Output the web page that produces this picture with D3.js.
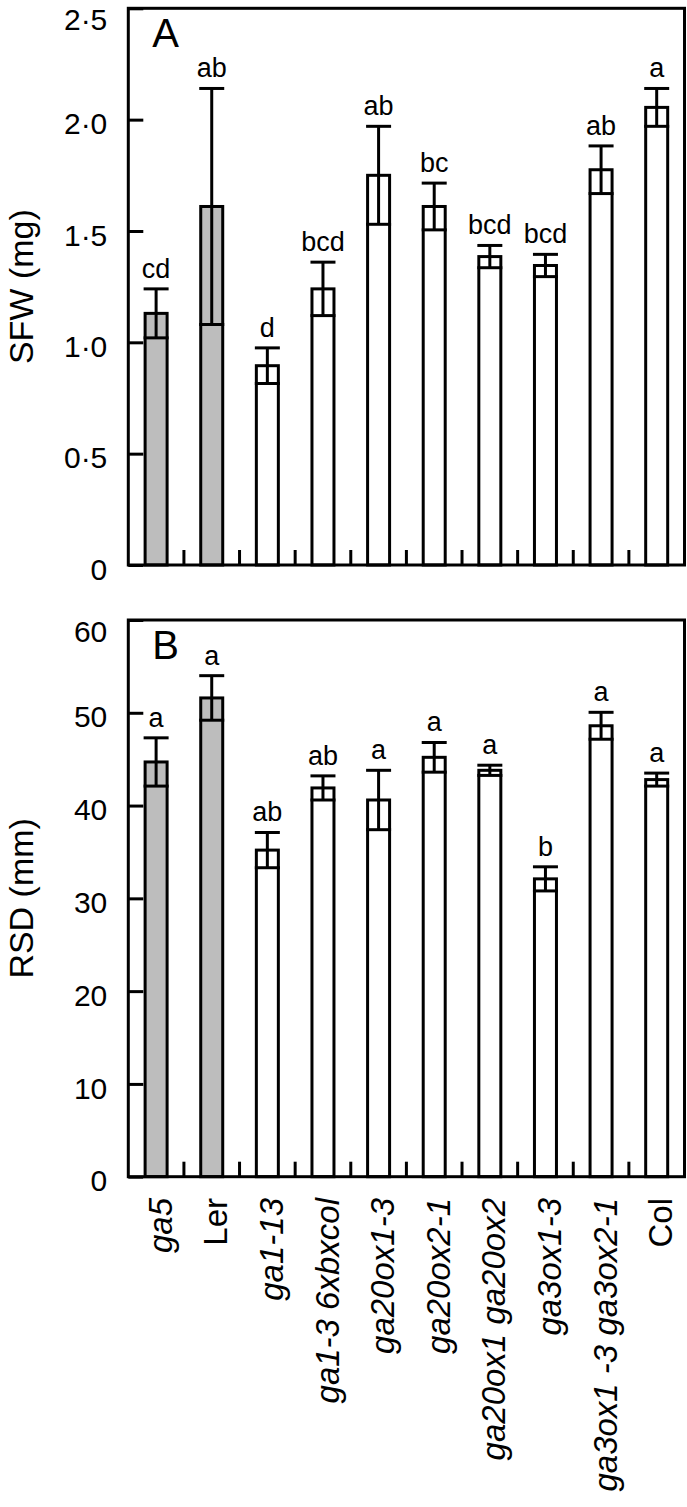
<!DOCTYPE html>
<html>
<head>
<meta charset="utf-8">
<script src="https://cdn.jsdelivr.net/npm/d3@7"></script>
<style>
  html, body { margin: 0; padding: 0; background: #fff; }
  svg { display: block; }
  text { font-family: "Liberation Sans", Arial, Helvetica, sans-serif; fill: #000; }
</style>
</head>
<body>
<svg id="chart" width="687" height="1507"></svg>
<script>
// ---- data ----
const categories = ["ga5", "Ler", "ga1-13", "ga1-3 6xbxcol", "ga20ox1-3", "ga20ox2-1",
                    "ga20ox1 ga20ox2", "ga3ox1-3", "ga3ox1 -3 ga3ox2-1", "Col"];
const italicCategory = [true, false, true, true, true, true, true, true, true, false];
const grayBar = [true, true, false, false, false, false, false, false, false, false];

const sfwMean = [1.13, 1.61, 0.895, 1.24, 1.75, 1.61, 1.385, 1.345, 1.775, 2.055];
const sfwSE   = [0.11, 0.53, 0.08, 0.12, 0.22, 0.105, 0.05, 0.05, 0.107, 0.085];
const sfwLetters = ["cd", "ab", "d", "bcd", "ab", "bc", "bcd", "bcd", "ab", "a"];
const sfwTicks = [0, 0.5, 1.0, 1.5, 2.0, 2.5];
const sfwTickLabels = ["0", "0·5", "1·0", "1·5", "2·0", "2·5"];

const rsdMean = [44.7, 51.6, 35.2, 41.9, 40.6, 45.2, 43.8, 32.1, 48.6, 42.8];
const rsdSE   = [2.6, 2.4, 1.9, 1.3, 3.2, 1.6, 0.55, 1.3, 1.45, 0.7];
const rsdLetters = ["a", "a", "ab", "ab", "a", "a", "a", "b", "a", "a"];
const rsdTicks = [0, 10, 20, 30, 40, 50, 60];
const rsdTickLabels = ["0", "10", "20", "30", "40", "50", "60"];

// ---- layout ----
const svg = d3.select("#chart");
const left = 128.3, right = 684.5;
const x = d3.scaleBand().domain(categories).range([left, right]).paddingInner(0).paddingOuter(0);
const barW = 22;
const SW = 3;

function panel(opts) {
  const y = d3.scaleLinear().domain(opts.domain).range([opts.bottom, opts.top]);
  const g = svg.append("g");

  // bars
  g.selectAll("rect.bar").data(categories).join("rect")
    .attr("class", "bar")
    .attr("x", d => x(d) + x.bandwidth() / 2 - barW / 2)
    .attr("width", barW)
    .attr("y", (d, i) => y(opts.mean[i]))
    .attr("height", (d, i) => y(0) - y(opts.mean[i]))
    .attr("fill", (d, i) => grayBar[i] ? "#bdbdbd" : "#fff")
    .attr("stroke", "#000").attr("stroke-width", SW);

  // error bars
  const eb = g.selectAll("g.err").data(categories).join("g").attr("class", "err");
  eb.append("line")
    .attr("x1", d => x(d) + x.bandwidth() / 2).attr("x2", d => x(d) + x.bandwidth() / 2)
    .attr("y1", (d, i) => y(opts.mean[i] - opts.se[i]))
    .attr("y2", (d, i) => y(opts.mean[i] + opts.se[i]))
    .attr("stroke", "#000").attr("stroke-width", SW);
  eb.append("line")
    .attr("x1", d => x(d) + x.bandwidth() / 2 - barW / 2 - 1.5)
    .attr("x2", d => x(d) + x.bandwidth() / 2 + barW / 2 + 1.5)
    .attr("y1", (d, i) => y(opts.mean[i] + opts.se[i]))
    .attr("y2", (d, i) => y(opts.mean[i] + opts.se[i]))
    .attr("stroke", "#000").attr("stroke-width", SW);
  eb.append("line")
    .attr("x1", d => x(d) + x.bandwidth() / 2 - barW / 2 - 1.5)
    .attr("x2", d => x(d) + x.bandwidth() / 2 + barW / 2 + 1.5)
    .attr("y1", (d, i) => y(opts.mean[i] - opts.se[i]))
    .attr("y2", (d, i) => y(opts.mean[i] - opts.se[i]))
    .attr("stroke", "#000").attr("stroke-width", SW);

  // significance letters
  g.selectAll("text.sig").data(categories).join("text")
    .attr("class", "sig")
    .attr("x", d => x(d) + x.bandwidth() / 2)
    .attr("y", (d, i) => y(opts.mean[i] + opts.se[i]) - 11)
    .attr("text-anchor", "middle")
    .style("font-size", "27px")
    .text((d, i) => opts.letters[i]);

  // y axis (inward ticks)
  const yMax = opts.domain[1];
  const yAxis = d3.axisLeft(y)
    .tickValues(opts.ticks)
    .tickFormat((d, i) => opts.tickLabels[i])
    .tickSizeInner(-15).tickSizeOuter(0).tickPadding(21);
  const ya = g.append("g").attr("transform", `translate(${left},0)`).call(yAxis);
  ya.select(".domain").remove();
  ya.selectAll(".tick line").attr("stroke", "#000").attr("stroke-width", SW);
  ya.selectAll(".tick text")
    .style("font-size", "30px")
    .style("font-family", '"Liberation Sans", Arial, sans-serif')
    .attr("dy", d => d === yMax ? "0.72em" : "0.47em");

  // bottom x ticks (inward, at band boundaries)
  g.selectAll("line.bt").data(categories.slice(1)).join("line")
    .attr("class", "bt")
    .attr("x1", d => x(d)).attr("x2", d => x(d))
    .attr("y1", opts.bottom).attr("y2", opts.bottom - 15)
    .attr("stroke", "#000").attr("stroke-width", SW);

  // frame
  g.append("rect")
    .attr("x", left).attr("y", opts.top)
    .attr("width", right - left).attr("height", opts.bottom - opts.top)
    .attr("fill", "none").attr("stroke", "#000").attr("stroke-width", SW);

  // panel letter
  g.append("text")
    .attr("x", left + 24).attr("y", opts.top + 39)
    .style("font-size", "40px")
    .text(opts.panelLabel);

  // y title
  g.append("text")
    .attr("transform", `translate(33,${(opts.top + opts.bottom) / 2}) rotate(-90)`)
    .attr("text-anchor", "middle")
    .style("font-size", "34px")
    .text(opts.title);

  return y;
}

panel({ domain: [0, 2.5], top: 8.3, bottom: 565, mean: sfwMean, se: sfwSE,
        letters: sfwLetters, ticks: sfwTicks, tickLabels: sfwTickLabels,
        panelLabel: "A", title: "SFW (mg)" });

panel({ domain: [0, 60], top: 620, bottom: 1176.7, mean: rsdMean, se: rsdSE,
        letters: rsdLetters, ticks: rsdTicks, tickLabels: rsdTickLabels,
        panelLabel: "B", title: "RSD (mm)" });

// x category labels (rotated)
svg.append("g").selectAll("text.cat").data(categories).join("text")
  .attr("class", "cat")
  .attr("transform", d => `translate(${x(d) + x.bandwidth() / 2 + 4},1198) rotate(-90)`)
  .attr("text-anchor", "end")
  .attr("dy", "0.35em")
  .style("font-size", "33px")
  .style("font-style", (d, i) => italicCategory[i] ? "italic" : "normal")
  .text(d => d);
</script>
</body>
</html>
